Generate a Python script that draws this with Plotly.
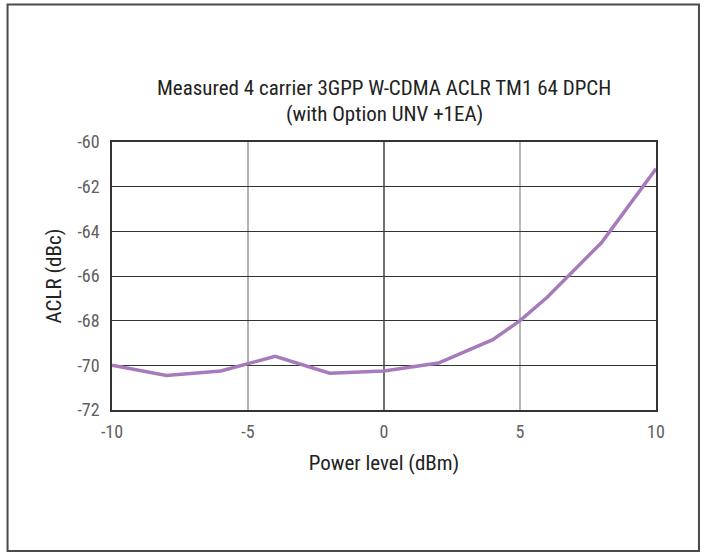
import plotly.graph_objects as go

# Measured ACLR vs output power level
power_dbm = [-10, -8, -6, -4, -2, 0, 2, 4, 5, 6, 8, 10]
aclr_dbc = [-70.0, -70.45, -70.25, -69.6, -70.35, -70.25, -69.9, -68.85, -68.0, -66.95, -64.5, -61.2]

x_ticks = [-10, -5, 0, 5, 10]
x_ticktext = ['-10', '-5', '0', '5', '10']
y_ticks = [-72, -70, -68, -66, -64, -62, -60]
y_ticktext = ['-72', '-70', '-68', '-66', '-64', '-62', '-60']

title_lines = ['Measured 4 carrier 3GPP W-CDMA ACLR TM1 64 DPCH', '(with Option UNV +1EA)']

FONT = 'Liberation Sans Narrow, Roboto Condensed, Roboto, sans-serif'

fig = go.Figure()

fig.add_trace(go.Scatter(
    x=power_dbm, y=aclr_dbc,
    mode='lines',
    line=dict(color='#a77bbb', width=3.5),
    showlegend=False
))

# vertical grid: grey at +/-5, black at 0
for xv, col in [(-5, '#808080'), (0, '#111111'), (5, '#888888')]:
    fig.add_vline(x=xv, line=dict(color=col, width=1.2), layer='below')

# outer frame around the whole figure
fig.add_shape(type='rect', xref='paper', yref='paper',
              x0=-0.192, x1=1.079, y0=-0.526, y1=1.513,
              line=dict(color='#4a4a4a', width=2))

# two-line title
for txt, yp in zip(title_lines, [1.2015, 1.1045]):
    fig.add_annotation(text=txt, xref='paper', yref='paper', x=0.5, y=yp,
                       xanchor='center', yanchor='middle', showarrow=False,
                       font=dict(size=21, family=FONT, color='#222222'))

fig.update_layout(
    width=705, height=552,
    paper_bgcolor='white',
    plot_bgcolor='white',
    margin=dict(l=112, r=49, t=142, b=142),
    font=dict(family=FONT, color='#222222'),
    xaxis=dict(
        range=[-10, 10], tickvals=x_ticks, ticktext=x_ticktext,
        showgrid=False, zeroline=False,
        showline=True, linecolor='#333333', linewidth=1.5, mirror=True,
        ticks='', ticklabelstandoff=5,
        tickfont=dict(size=18, color='#606060'),
        title=dict(text='Power level (dBm)', font=dict(size=21, color='#222222'), standoff=14)
    ),
    yaxis=dict(
        range=[-72, -60], tickvals=y_ticks, ticktext=y_ticktext,
        showgrid=True, gridcolor='#333333', gridwidth=1.2,
        zeroline=False,
        showline=True, linecolor='#333333', linewidth=1.5, mirror=True,
        ticks='', ticklabelstandoff=7,
        tickfont=dict(size=18, color='#606060'),
        title=dict(text='ACLR (dBc)', font=dict(size=21, color='#222222'), standoff=10)
    )
)

fig.write_html("out.html", config={'displayModeBar': False},
               post_script="document.body.style.margin='0';")
